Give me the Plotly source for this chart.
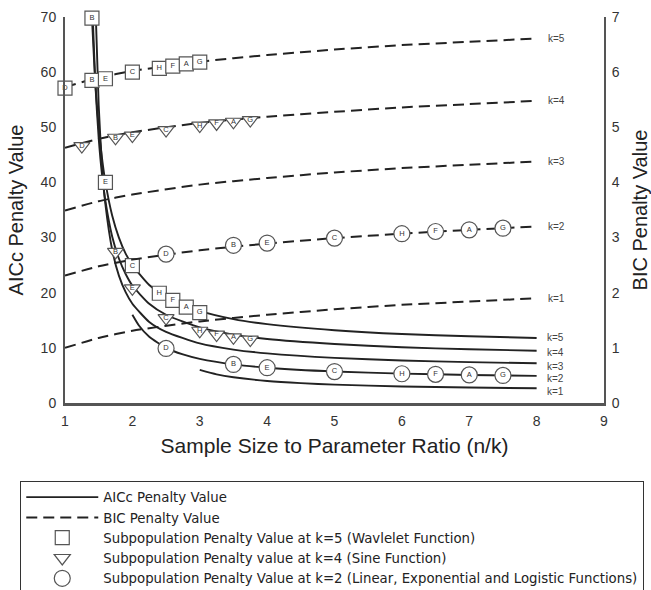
import plotly.graph_objects as go

# ---------------- data ----------------
# AICc penalty curves (left axis)
aicc_k5_x = [1.4, 1.45, 1.5, 1.55, 1.6, 1.7, 1.8, 1.9, 2, 2.25, 2.5, 3, 3.5, 4, 5, 6, 7, 8]
aicc_k5_y = [70, 58, 50, 44.3, 40, 34, 30, 27.1, 25, 21.4, 19.2, 16.7, 15.2, 14.3, 13.2, 12.5, 12.1, 11.8]
aicc_k4_x = [1.41, 1.45, 1.5, 1.55, 1.6, 1.7, 1.8, 1.9, 2, 2.25, 2.5, 3, 3.5, 4, 5, 6, 7, 8]
aicc_k4_y = [70.5, 58, 48, 41.3, 36.6, 30.2, 26.2, 23.4, 21.3, 18, 16, 13.7, 12.4, 11.6, 10.7, 10.1, 9.74, 9.48]
aicc_k3_x = [1.46, 1.5, 1.55, 1.6, 1.7, 1.8, 1.9, 2, 2.25, 2.5, 3, 3.5, 4, 5, 6, 7, 8]
aicc_k3_y = [69.2, 54, 42.9, 36, 27.8, 23.1, 20.1, 18, 14.7, 12.9, 10.8, 9.69, 9.0, 8.18, 7.71, 7.41, 7.2]
aicc_k2_x = [2, 2.1, 2.25, 2.5, 2.75, 3, 3.5, 4, 5, 6, 7, 8]
aicc_k2_y = [16, 14, 12, 10, 8.8, 8, 7, 6.4, 5.71, 5.33, 5.09, 4.92]
aicc_k1_x = [3, 3.25, 3.5, 4, 4.5, 5, 6, 7, 8]
aicc_k1_y = [6.0, 5.2, 4.67, 4.0, 3.6, 3.33, 3.0, 2.8, 2.67]

# BIC penalty curves (right axis)
bic_x = [1, 1.5, 2, 3, 4, 5, 6, 7, 8]
bic_k1 = [1.00, 1.18, 1.31, 1.48, 1.60, 1.70, 1.78, 1.84, 1.90]
bic_k2 = [2.31, 2.48, 2.60, 2.77, 2.89, 2.99, 3.07, 3.14, 3.20]
bic_k3 = [3.49, 3.66, 3.78, 3.96, 4.08, 4.18, 4.26, 4.32, 4.38]
bic_k4 = [4.63, 4.79, 4.91, 5.08, 5.19, 5.28, 5.36, 5.42, 5.48]
bic_k5 = [5.73, 5.90, 6.02, 6.19, 6.31, 6.41, 6.49, 6.55, 6.61]

curve_labels = ["k=5", "k=4", "k=3", "k=2", "k=1"]

# Subpopulation points
sq_bic_x = [1, 1.4, 1.6, 2, 2.4, 2.6, 2.8, 3]
sq_bic_y = [5.71, 5.85, 5.88, 6.00, 6.07, 6.11, 6.15, 6.18]
sq_bic_t = ["D", "B", "E", "C", "H", "F", "A", "G"]
sq_aic_x = [1.4, 1.6, 2, 2.4, 2.6, 2.8, 3]
sq_aic_y = [69.8, 40.0, 24.9, 19.9, 18.6, 17.4, 16.4]
sq_aic_t = ["B", "E", "C", "H", "F", "A", "G"]

tr_bic_x = [1.25, 1.75, 2, 2.5, 3, 3.25, 3.5, 3.75]
tr_bic_y = [4.66, 4.81, 4.85, 4.95, 5.03, 5.07, 5.10, 5.13]
tr_bic_t = ["D", "B", "E", "C", "H", "F", "A", "G"]
tr_aic_x = [1.75, 2, 2.5, 3, 3.25, 3.5, 3.75]
tr_aic_y = [27.4, 20.8, 15.4, 13.1, 12.4, 11.9, 11.5]
tr_aic_t = ["B", "E", "C", "H", "F", "A", "G"]

ci_bic_x = [2.5, 3.5, 4, 5, 6, 6.5, 7, 7.5]
ci_bic_y = [2.70, 2.86, 2.90, 2.99, 3.07, 3.11, 3.14, 3.17]
ci_bic_t = ["D", "B", "E", "C", "H", "F", "A", "G"]
ci_aic_x = [2.5, 3.5, 4, 5, 6, 6.5, 7, 7.5]
ci_aic_y = [9.9, 7.0, 6.4, 5.7, 5.3, 5.2, 5.1, 5.0]
ci_aic_t = ["D", "B", "E", "C", "H", "F", "A", "G"]

x_ticks = [1, 2, 3, 4, 5, 6, 7, 8, 9]
y_ticks = [0, 10, 20, 30, 40, 50, 60, 70]
y2_ticks = [0, 1, 2, 3, 4, 5, 6, 7]

legend_names = ["AICc Penalty Value", "BIC Penalty Value",
                "Subpopulation Penalty Value at k=5 (Wavlelet Function)",
                "Subpopulation Penalty value at k=4 (Sine Function)",
                "Subpopulation Penalty Value at k=2 (Linear, Exponential and Logistic Functions)"]

# ---------------- styling ----------------
FONT = "Liberation Sans, Arial, sans-serif"
WIDE = "DejaVu Sans, Liberation Sans, sans-serif"
INK = "#222222"
AX = "#555555"
MK_LINE = "#555555"

fig = go.Figure()

aicc = [(aicc_k5_x, aicc_k5_y), (aicc_k4_x, aicc_k4_y), (aicc_k3_x, aicc_k3_y),
        (aicc_k2_x, aicc_k2_y), (aicc_k1_x, aicc_k1_y)]
for i, (xs, ys) in enumerate(aicc):
    fig.add_trace(go.Scatter(x=xs, y=ys, mode="lines",
                             line=dict(color=INK, width=1.9, shape="spline", smoothing=0.6),
                             name=legend_names[0], legendgroup="aicc", showlegend=(i == 0),
                             legendrank=1, hoverinfo="skip"))

def add_markers(xs, ys, texts, symbol, size, yaxis, name, showlegend, rank):
    fig.add_trace(go.Scatter(x=xs, y=ys, mode="markers", yaxis=yaxis, cliponaxis=False,
                             marker=dict(symbol=symbol, size=size, color="white",
                                         line=dict(color=MK_LINE, width=1.2)),
                             name=name, legendgroup=name, showlegend=showlegend,
                             legendrank=rank, hoverinfo="skip"))
    fig.add_trace(go.Scatter(x=xs, y=ys, mode="text", yaxis=yaxis, text=texts, cliponaxis=False,
                             textfont=dict(family=FONT, size=7.5, color="#333"),
                             showlegend=False, hoverinfo="skip"))

add_markers(sq_aic_x, sq_aic_y, sq_aic_t, "square", 14, "y", legend_names[2], True, 3)
add_markers(tr_aic_x, tr_aic_y, tr_aic_t, "triangle-down", 14, "y", legend_names[3], True, 4)
add_markers(ci_aic_x, ci_aic_y, ci_aic_t, "circle", 16, "y", legend_names[4], True, 5)

bic = [bic_k5, bic_k4, bic_k3, bic_k2, bic_k1]
for i, ys in enumerate(bic):
    fig.add_trace(go.Scatter(x=bic_x, y=ys, mode="lines", yaxis="y2",
                             line=dict(color=INK, width=2, dash="11px,6px", shape="spline", smoothing=0.6),
                             name=legend_names[1], legendgroup="bic", showlegend=(i == 0),
                             legendrank=2, hoverinfo="skip"))

add_markers(sq_bic_x, sq_bic_y, sq_bic_t, "square", 14, "y2", legend_names[2], False, 3)
add_markers(tr_bic_x, tr_bic_y, tr_bic_t, "triangle-down", 14, "y2", legend_names[3], False, 4)
add_markers(ci_bic_x, ci_bic_y, ci_bic_t, "circle", 16, "y2", legend_names[4], False, 5)

# curve end labels
aicc_shift = [0, -2, -3, -3, -3.5]
for i, (xs, ys) in enumerate(aicc):
    fig.add_annotation(x=xs[-1], y=ys[-1], text=curve_labels[i], showarrow=False,
                       xanchor="left", xshift=8, yshift=aicc_shift[i],
                       font=dict(family=FONT, size=10, color="#444"))
for i, ys in enumerate(bic):
    fig.add_annotation(x=bic_x[-1], y=ys[-1], yref="y2", text=curve_labels[i], showarrow=False,
                       xanchor="left", xshift=9,
                       font=dict(family=FONT, size=10, color="#444"))

fig.update_layout(
    width=651, height=590,
    margin=dict(l=65, r=47, t=17, b=187, autoexpand=False),
    paper_bgcolor="white", plot_bgcolor="white",
    font=dict(family=FONT, color=INK),
    xaxis=dict(range=[1, 9], tickvals=x_ticks, showgrid=False, zeroline=False,
               showline=True, linecolor=AX, linewidth=2.5, ticks="", automargin=False,
               ticklabelstandoff=3,
               tickfont=dict(size=14, color="#333"),
               title=dict(text="Sample Size to Parameter Ratio (n/k)",
                          font=dict(size=21, color=INK), standoff=11)),
    yaxis=dict(range=[0, 70], tickvals=y_ticks, showgrid=False, zeroline=False,
               showline=True, linecolor=AX, linewidth=2, ticks="", automargin=False,
               ticklabelstandoff=4,
               tickfont=dict(size=14, color="#333"),
               title=dict(text="AICc Penalty Value", font=dict(size=20, color=INK), standoff=12)),
    yaxis2=dict(range=[0, 7], tickvals=y2_ticks, overlaying="y", side="right",
                showgrid=False, zeroline=False, showline=True, linecolor=AX, linewidth=2,
                ticks="", ticklabelstandoff=3, automargin=False,
                tickfont=dict(size=14, color="#333"),
                title=dict(text="BIC Penalty Value", font=dict(size=20, color=INK), standoff=20)),
    legend=dict(x=-0.083, y=-0.202, xanchor="left", yanchor="top",
                bordercolor="#333", borderwidth=1, bgcolor="white",
                font=dict(family=WIDE, size=13.3, color=INK),
                itemwidth=72, tracegroupgap=0, traceorder="normal"),
    showlegend=True,
)

fig.write_html("out.html")
